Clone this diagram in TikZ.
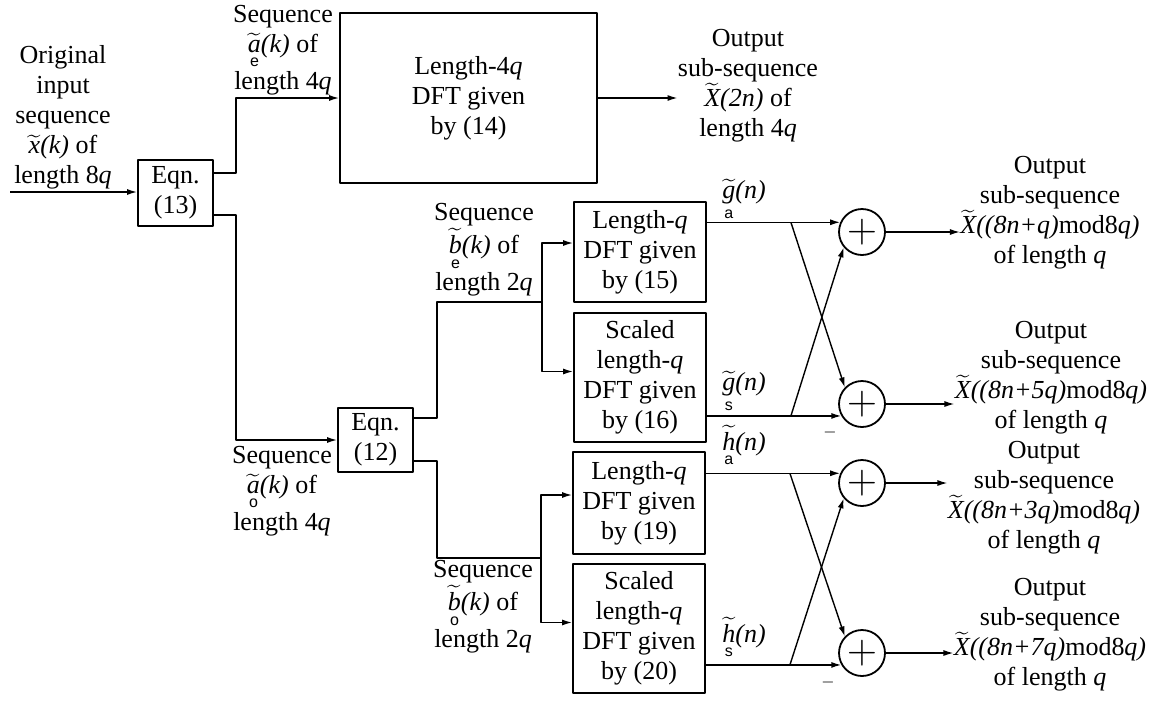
\documentclass[tikz,border=0pt]{standalone}
\usepackage{amsmath}
\usepackage{fontspec}
\setmainfont{Liberation Serif}
\setsansfont{Liberation Sans}
\usetikzlibrary{arrows.meta}
\newcommand{\tw}[1]{$\widetilde{\text{\itshape #1}}$}
\newcommand{\tl}[2]{$\underset{\text{\fontsize{8}{8}\sffamily #2}}{\widetilde{\text{\itshape #1}}}$}
\begin{document}
\begin{tikzpicture}[x=0.5pt, y=-0.5pt, line join=round,
    font=\fontsize{13}{15}\selectfont, >={Latex[length=5pt,width=3pt]},
    blk/.style={draw, line width=0.9pt, align=center, inner sep=0pt, minimum width=66pt},
    adder/.style={draw, line width=0.9pt, circle, minimum size=23pt, inner sep=0pt,
      font=\fontsize{20}{20}\selectfont},
    note/.style={align=center, inner sep=0pt},
    link/.style={line width=0.7pt}]
  \useasboundingbox (0,0) rectangle (1167,702);
  \node[blk, minimum width=37.5pt, minimum height=33pt] (eqA) at (175.5,193) {Eqn.\\(13)};
  \node[blk, minimum width=128.5pt, minimum height=85pt] (dftA) at (468.5,98) {Length-4\textit{q}\\DFT given\\by (14)};
  \node[blk, minimum width=37.5pt, minimum height=32pt] (eqB) at (375.5,440) {Eqn.\\(12)};
  \node[blk, minimum height=50pt] (dftB) at (640,252) {Length-\textit{q}\\DFT given\\by (15)};
  \node[blk, minimum height=64.5pt] (dftC) at (640,377.5) {Scaled\\length-\textit{q}\\DFT given\\by (16)};
  \node[blk, minimum height=51pt] (dftD) at (639,503) {Length-\textit{q}\\DFT given\\by (19)};
  \node[blk, minimum height=64.5pt] (dftE) at (639,628.5) {Scaled\\length-\textit{q}\\DFT given\\by (20)};
  \node[adder] (sumA) at (862,232) {$+$};
  \node[adder] (sumB) at (862,404) {$+$};
  \node[adder] (sumC) at (862,483) {$+$};
  \node[adder] (sumD) at (862,653) {$+$};

  \node[note, anchor=south] (inX) at (63,190) {Original\\input\\sequence\\\tw{x}\textit{(k)} of\\length 8\textit{q}};
  \node[note] (seqAe) at (283,50) {Sequence\\\tl{a}{e}\textit{(k)} of\\length 4\textit{q}};
  \node[note] (seqAo) at (282,491) {Sequence\\\tl{a}{o}\textit{(k)} of\\length 4\textit{q}};
  \node[note] (seqBe) at (484,250) {Sequence\\\tl{b}{e}\textit{(k)} of\\length 2\textit{q}};
  \node[note] (seqBo) at (483,607) {Sequence\\\tl{b}{o}\textit{(k)} of\\length 2\textit{q}};
  \node[note] (gAl) at (744,200) {\tl{g}{a}\textit{(n)}};
  \node[note] (gSl) at (744,392) {\tl{g}{s}\textit{(n)}};
  \node[note] (hAl) at (744,446) {\tl{h}{a}\textit{(n)}};
  \node[note] (hSl) at (744,638) {\tl{h}{s}\textit{(n)}};
  \node[note] (outA) at (748,86) {Output\\sub-sequence\\\tw{X}\textit{(2n)} of\\length 4\textit{q}};
  \node[note] (outB) at (1050,213) {Output\\sub-sequence\\\tw{X}\textit{((8n+q)}mod8\textit{q)}\\of length \textit{q}};
  \node[note] (outC) at (1051,378) {Output\\sub-sequence\\\tw{X}\textit{((8n+5q)}mod8\textit{q)}\\of length \textit{q}};
  \node[note] (outD) at (1044,498) {Output\\sub-sequence\\\tw{X}\textit{((8n+3q)}mod8\textit{q)}\\of length \textit{q}};
  \node[note] (outE) at (1050,635) {Output\\sub-sequence\\\tw{X}\textit{((8n+7q)}mod8\textit{q)}\\of length \textit{q}};
  \node[font=\fontsize{8}{8}\selectfont] (mB) at (830,432) {$-$};
  \node[font=\fontsize{8}{8}\selectfont] (mD) at (828,682) {$-$};

  \coordinate (in) at (10,192);
  \coordinate (brE) at (542,302);
  \coordinate (brO) at (541,558);
  \draw[link,->] (in) -- (in -| eqA.west);
  \draw[link,->] ([yshift=10pt]eqA.east) -- ++(22,0) |- (dftA.west);
  \draw[link,->] ([yshift=-11pt]eqA.east) -- ++(22,0) |- (eqB.west);
  \draw[link,->] (dftA.east) -- (dftA.east -| outA.west);
  \draw[link] ([yshift=11pt]eqB.east) -- ++(23,0) |- (brE);
  \draw[link,->] (brE) |- ([yshift=4.5pt]dftB.west);
  \draw[link,->] (brE) |- ([yshift=3pt]dftC.west);
  \draw[link] ([yshift=-10.5pt]eqB.east) -- ++(23,0) |- (brO);
  \draw[link,->] (brO) |- ([yshift=4pt]dftD.west);
  \draw[link,->] (brO) |- ([yshift=3pt]dftE.west);
  \foreach \p/\q/\u/\v in {dftB/dftC/sumA/sumB, dftD/dftE/sumC/sumD} {
    \coordinate (top) at (\p.east |- \u.156);
    \coordinate (bot) at (\q.east |- \v.210);
    \draw[link,->] (top) -- (\u.156);
    \draw[link,->] (bot) -- (\v.210);
    \draw[link,->] ([xshift=42pt]top) -- (\v.136);
    \draw[link,->] ([xshift=42pt]bot) -- (\u.220);
  }
  \draw[link,->] (sumA.east) -- (sumA.east -| outB.west);
  \draw[link,->] (sumB.east) -- (sumB.east -| outC.west);
  \draw[link,->] (sumC.east) -- (sumC.east -| outD.west);
  \draw[link,->] (sumD.east) -- (sumD.east -| outE.west);
\end{tikzpicture}
\end{document}
